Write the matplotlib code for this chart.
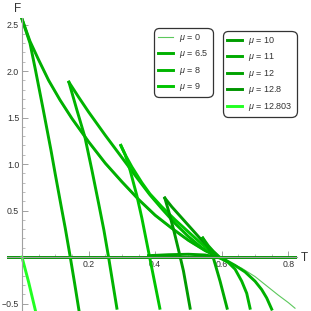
import numpy as np
import matplotlib
matplotlib.use('Agg')
import matplotlib.pyplot as plt
from matplotlib.ticker import MultipleLocator, FixedLocator
from matplotlib.lines import Line2D

plt.rcParams['font.family'] = ['Liberation Sans', 'DejaVu Sans']
plt.rcParams['mathtext.fontset'] = 'custom'
plt.rcParams['mathtext.it'] = 'Liberation Sans:italic'
plt.rcParams['mathtext.rm'] = 'Liberation Sans'

# mu values and colours used in the legend
mu_labels = ['0', '6.5', '8', '9', '10', '11', '12', '12.8', '12.803']
mu_colors = ['#5cc85c', '#00b000', '#00b400', '#00c400', '#009c00',
             '#00aa00', '#00a200', '#009400', '#22ff22']

# mu = 0, single convex branch (thin)
T_mu0 = [0, 0.012, 0.024, 0.05, 0.08, 0.114, 0.15, 0.2, 0.25, 0.3, 0.35, 0.4, 0.45,
         0.5, 0.55, 0.58, 0.62, 0.66, 0.70, 0.735, 0.77, 0.80, 0.82]
F_mu0 = [2.56, 2.44, 2.32, 2.11, 1.89, 1.68, 1.48, 1.23, 1.00, 0.80, 0.61, 0.44, 0.30,
         0.17, 0.06, 0.01, -0.05, -0.12, -0.21, -0.31, -0.41, -0.49, -0.55]

# mu = 6.5
T_mu65_a = [0, 0.012, 0.024, 0.04, 0.063, 0.087, 0.10, 0.118, 0.13, 0.145, 0.158, 0.171]
F_mu65_a = [2.56, 2.43, 2.30, 2.02, 1.60, 1.15, 0.89, 0.54, 0.31, 0.0, -0.28, -0.57]
T_mu65_b = [0, 0.012, 0.024, 0.05, 0.08, 0.114, 0.15, 0.2, 0.25, 0.3, 0.35, 0.4, 0.45,
            0.5, 0.55, 0.58, 0.61, 0.64, 0.67, 0.70, 0.72, 0.735, 0.75]
F_mu65_b = [2.56, 2.44, 2.32, 2.12, 1.90, 1.69, 1.49, 1.24, 1.01, 0.81, 0.62, 0.45, 0.31,
            0.18, 0.07, 0.02, -0.03, -0.09, -0.16, -0.26, -0.35, -0.44, -0.56]

# mu = 8
T_mu8_a = [0.141, 0.165, 0.189, 0.21, 0.23, 0.246, 0.26, 0.285]
F_mu8_a = [1.88, 1.58, 1.29, 0.935, 0.58, 0.29, 0.0, -0.55]
T_mu8_b = [0.141, 0.17, 0.2, 0.25, 0.3, 0.35, 0.384, 0.42, 0.46, 0.5, 0.54, 0.58,
           0.60, 0.62, 0.64, 0.66, 0.675, 0.685]
F_mu8_b = [1.88, 1.72, 1.56, 1.31, 1.07, 0.83, 0.67, 0.52, 0.36, 0.22, 0.10, 0.01,
           -0.02, -0.06, -0.13, -0.26, -0.39, -0.55]

# mu = 9
T_mu9_a = [0.297, 0.31, 0.325, 0.345, 0.36, 0.38, 0.395, 0.414]
F_mu9_a = [1.20, 1.10, 0.93, 0.66, 0.42, 0.06, -0.21, -0.55]
T_mu9_b = [0.297, 0.31, 0.33, 0.36, 0.384, 0.42, 0.46, 0.5, 0.54, 0.58]
F_mu9_b = [1.20, 1.10, 0.97, 0.80, 0.68, 0.54, 0.40, 0.27, 0.14, 0.02]

# mu = 10
T_mu10_a = [0.429, 0.44, 0.455, 0.47, 0.485, 0.505]
F_mu10_a = [0.634, 0.50, 0.30, 0.08, -0.15, -0.55]
T_mu10_b = [0.429, 0.45, 0.48, 0.51, 0.54, 0.565, 0.585]
F_mu10_b = [0.634, 0.54, 0.42, 0.30, 0.18, 0.09, 0.02]

# mu = 11
T_mu11_a = [0.543, 0.558, 0.574, 0.595, 0.616]
F_mu11_a = [0.204, 0.11, 0.0, -0.26, -0.55]
T_mu11_b = [0.543, 0.56, 0.575, 0.59]
F_mu11_b = [0.204, 0.12, 0.06, 0.01]

# mu = 12
T_mu12 = [0.38, 0.44, 0.5, 0.55, 0.585]
F_mu12 = [0.015, 0.025, 0.03, 0.022, 0.0]

# mu = 12.8
T_mu128 = [-0.045, 0.826]
F_mu128 = [0.0, 0.0]

# mu = 12.803
T_mu12803 = [0, 0.02, 0.04]
F_mu12803 = [0, -0.27, -0.57]

fig = plt.figure(figsize=(3.11, 3.11), dpi=100)
ax = fig.add_axes([7 / 311, 0, 290 / 311, 293 / 311])
ax.set_xlim(-0.045, 0.826)
ax.set_ylim(-0.58, 2.57)

lw = 2.1
ax.plot(T_mu128, F_mu128, color=mu_colors[7], lw=lw)
ax.plot(T_mu0, F_mu0, color=mu_colors[0], lw=0.8)
ax.plot(T_mu65_a, F_mu65_a, color=mu_colors[1], lw=lw)
ax.plot(T_mu65_b, F_mu65_b, color=mu_colors[1], lw=lw)
ax.plot(T_mu8_a, F_mu8_a, color=mu_colors[2], lw=lw)
ax.plot(T_mu8_b, F_mu8_b, color=mu_colors[2], lw=lw)
ax.plot(T_mu9_a, F_mu9_a, color=mu_colors[3], lw=lw)
ax.plot(T_mu9_b, F_mu9_b, color=mu_colors[3], lw=lw)
ax.plot(T_mu10_a, F_mu10_a, color=mu_colors[4], lw=lw)
ax.plot(T_mu10_b, F_mu10_b, color=mu_colors[4], lw=lw)
ax.plot(T_mu11_a, F_mu11_a, color=mu_colors[5], lw=lw)
ax.plot(T_mu11_b, F_mu11_b, color=mu_colors[5], lw=lw)
ax.plot(T_mu12, F_mu12, color=mu_colors[6], lw=lw)
ax.plot(T_mu12803, F_mu12803, color=mu_colors[8], lw=lw)

# Mathematica style axes through the origin
for s in ['top', 'right']:
    ax.spines[s].set_visible(False)
ax.spines['left'].set_position(('data', 0))
ax.spines['bottom'].set_position(('data', 0))
for s in ['left', 'bottom']:
    ax.spines[s].set_color('#a0a0a0')
    ax.spines[s].set_linewidth(0.8)

ax.xaxis.set_major_locator(FixedLocator([0.2, 0.4, 0.6, 0.8]))
ax.yaxis.set_major_locator(FixedLocator([-0.5, 0.5, 1.0, 1.5, 2.0, 2.5]))
ax.xaxis.set_minor_locator(MultipleLocator(0.05))
ax.yaxis.set_minor_locator(MultipleLocator(0.1))
ax.set_xticklabels(['0.2', '0.4', '0.6', '0.8'])
ax.set_yticklabels(['\u22120.5', '0.5', '1.0', '1.5', '2.0', '2.5'])
ax.tick_params(which='major', direction='in', length=4, width=0.7, color='#a0a0a0',
               labelsize=6.3, labelcolor='#333333', pad=2)
ax.tick_params(which='minor', direction='in', length=2, width=0.5, color='#a0a0a0')

fig.text(18 / 311, 1 - 9 / 311, 'F', fontsize=8.5, ha='center', va='center', color='#333333')
fig.text(304 / 311, 1 - 258 / 311, 'T', fontsize=8.5, ha='center', va='center', color='#333333')

handles1 = [Line2D([], [], color=mu_colors[0], lw=0.8)] + \
           [Line2D([], [], color=c, lw=lw) for c in mu_colors[1:4]]
labels1 = ['$\\mu$ = ' + m for m in mu_labels[:4]]
handles2 = [Line2D([], [], color=c, lw=lw) for c in mu_colors[4:]]
labels2 = ['$\\mu$ = ' + m for m in mu_labels[4:]]

leg_kw = dict(fontsize=6.5, handlelength=1.7, handletextpad=0.7, labelspacing=0.5,
              borderpad=0.42, fancybox=True, framealpha=1, edgecolor='#333333',
              borderaxespad=0)
leg1 = fig.legend(handles1, labels1, loc='upper left',
                  bbox_to_anchor=(154 / 311, 1 - 28 / 311), **leg_kw)
leg2 = fig.legend(handles2, labels2, loc='upper left',
                  bbox_to_anchor=(223 / 311, 1 - 31 / 311), **leg_kw)
for leg in (leg1, leg2):
    leg.get_frame().set_linewidth(0.9)
    leg.get_frame().set_boxstyle('round,pad=0,rounding_size=0.6')
    for t in leg.get_texts():
        t.set_color('#333333')

fig.savefig('out.png', dpi=100)
